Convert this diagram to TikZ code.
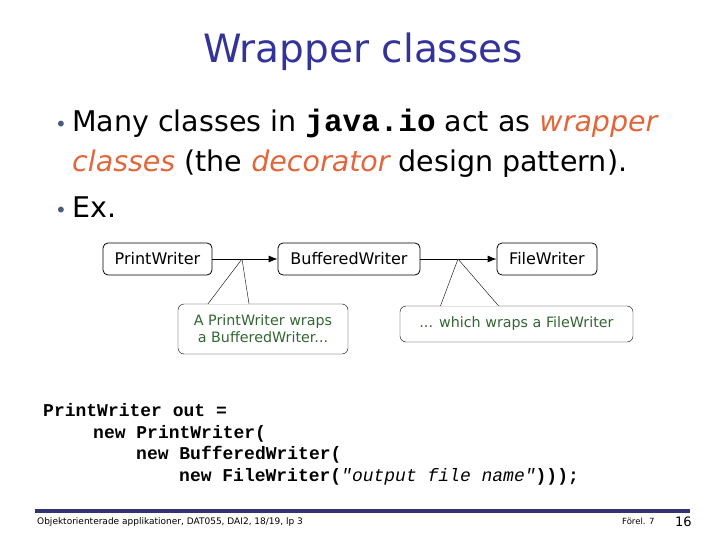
\documentclass[tikz,border=0pt]{standalone}
\usepackage{fontspec}
\setmainfont{DejaVu Sans}
\setmonofont{Liberation Mono}
\newfontfamily\diagfont{DejaVu Sans}
\usetikzlibrary{arrows.meta}
\definecolor{titleblue}{HTML}{333399}
\definecolor{accent}{HTML}{E2663C}
\definecolor{bulletc}{HTML}{4A5A7A}
\definecolor{notegreen}{HTML}{336633}
\definecolor{footblue}{HTML}{33336F}
\tikzset{
  classbox/.style={draw,thick,rounded corners=5pt,minimum height=32pt,inner xsep=8pt,font=\diagfont\fontsize{16}{19}\selectfont},
  note/.style={draw,rounded corners=6pt,fill=white,align=center,text=notegreen,font=\diagfont\fontsize{14.3}{17}\selectfont},
  wrap/.style={thick,-{Latex[length=9pt,width=7pt]}},
  body/.style={anchor=base west,inner sep=0pt,font=\fontsize{28.5}{32}\selectfont},
  code/.style={anchor=base west,inner sep=0pt,font=\ttfamily\bfseries\fontsize{18}{22}\selectfont},
}
\begin{document}
\begin{tikzpicture}[x=1pt,y=-1pt]
\useasboundingbox (0,0) rectangle (720,540);
% title
\node[text=titleblue,font=\fontsize{39}{46}\selectfont] (title) at (363,52) {Wrapper classes};
% bullets
\node[body,text=bulletc,font=\fontsize{20}{24}\selectfont] (b1) at (55,132) {•};
\node[body] (l1) at (72,132) {Many classes in {\ttfamily\bfseries\fontsize{31}{32}\selectfont java.io} act as {\itshape\color{accent}wrapper}};
\node[body] (l2) at (72,172) {{\itshape\color{accent}classes} (the {\itshape\color{accent}decorator} design pattern).};
\node[body,text=bulletc,font=\fontsize{20}{24}\selectfont] (b2) at (55,218) {•};
\node[body] (l3) at (72,218) {Ex.};
% diagram
\node[classbox,minimum width=109pt] (pw) at (157.5,259) {PrintWriter};
\node[classbox,minimum width=142pt] (bw) at (349,259) {BufferedWriter};
\node[classbox,minimum width=100pt] (fw) at (547,259) {FileWriter};
\draw[wrap] (pw.east) -- (bw.west);
\draw[wrap] (bw.east) -- (fw.west);
\coordinate (t1) at (242,259);
\coordinate (t2) at (458,259);
\node[note,minimum width=170pt,minimum height=50pt] (n1) at (263,329) {A PrintWriter wraps\\a BufferedWriter...};
\node[note,minimum width=233pt,minimum height=36pt] (n2) at (516.5,324) {... which wraps a FileWriter};
\draw[fill=white] ([xshift=-55pt]n1.north) -- (t1) -- ([xshift=-14pt]n1.north);
\draw[fill=white] ([xshift=-76pt]n2.north) -- (t2) -- ([xshift=-18pt]n2.north);
% code
\node[code] (c1) at (43,416) {PrintWriter out =};
\node[code] (c2) at (93,438) {new PrintWriter(};
\node[code] (c3) at (136,459) {new BufferedWriter(};
\node[code] (c4) at (179,481) {new FileWriter({\mdseries\itshape "output file name"})));};
% footer
\draw[footblue,line width=4pt] (35,511) -- (690,511);
\node[anchor=base west,inner sep=0pt,font=\fontsize{9}{10}\selectfont] (f1) at (37,524) {Objektorienterade applikationer, DAT055, DAI2, 18/19, lp 3};
\node[anchor=base west,inner sep=0pt,font=\fontsize{8.5}{10}\selectfont] (f2) at (622,524) {Förel. 7};
\node[anchor=base west,inner sep=0pt,font=\fontsize{13}{15}\selectfont] (f3) at (675,526) {16};
\end{tikzpicture}
\end{document}
